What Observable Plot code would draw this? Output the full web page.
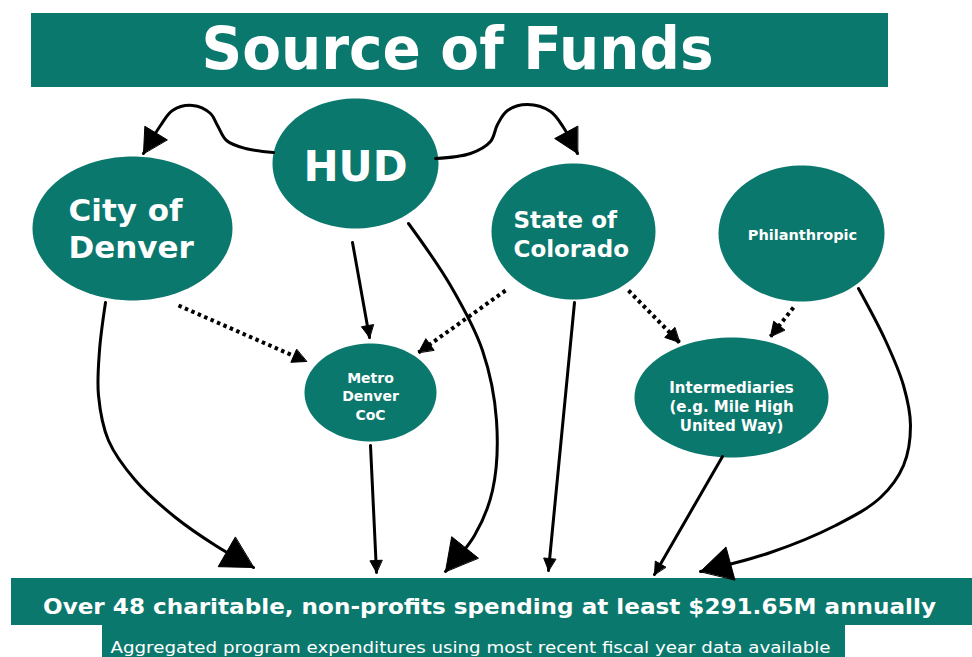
<!DOCTYPE html>
<html>
<head>
<meta charset="utf-8">
<script src="https://cdn.jsdelivr.net/npm/d3@7"></script>
<script src="https://cdn.jsdelivr.net/npm/@observablehq/plot@0.6"></script>
<style>
  html, body { margin: 0; padding: 0; background: #ffffff; }
  #chart svg { display: block; }
</style>
</head>
<body>
<div id="chart"></div>
<script>
// ---------- content / data ----------
const titleText = "Source of Funds";
const footerText = "Over 48 charitable, non-profits spending at least $291.65M annually";
const noteText = "Aggregated program expenditures using most recent fiscal year data available";

const nodeNames = ["HUD", "City of Denver", "State of Colorado", "Philanthropic", "Metro Denver CoC", "Intermediaries"];
const nodeLabels = [
  ["HUD"],
  ["City of", "Denver"],
  ["State of", "Colorado"],
  ["Philanthropic"],
  ["Metro", "Denver", "CoC"],
  ["Intermediaries", "(e.g. Mile High", "United Way)"]
];

// edges: from -> to ("Non-profits" = bottom bar), kind
const edgeFrom = ["HUD", "HUD", "HUD", "HUD", "City of Denver", "City of Denver", "State of Colorado", "State of Colorado", "State of Colorado", "Philanthropic", "Philanthropic", "Metro Denver CoC", "Intermediaries"];
const edgeTo   = ["City of Denver", "State of Colorado", "Metro Denver CoC", "Non-profits", "Non-profits", "Metro Denver CoC", "Metro Denver CoC", "Non-profits", "Intermediaries", "Intermediaries", "Non-profits", "Non-profits", "Non-profits"];
const edgeKind = ["solid", "solid", "solid", "solid", "solid", "dotted", "dotted", "solid", "dotted", "dotted", "solid", "solid", "solid"];

// ---------- layout (diagram geometry) ----------
const W = 972, H = 657;
const teal = "#0b786d";
const nodeCx = [355, 132, 573, 801, 370, 731];
const nodeCy = [163, 228, 231, 233, 392, 397];
const nodeRx = [83, 100, 82, 83, 66, 97];
const nodeRy = [65, 72, 68, 68, 49, 60];
const labelX = [355, 68, 513, 802, 370, 731];
const labelAnchor = ["middle", "start", "start", "middle", "middle", "middle"];
const labelBase = [180, 220, 227, 239, 382, 392];
const labelGap = [0, 37, 29, 0, 18.5, 19];
const labelSize = [42, 31, 23, 14.5, 14, 15];

const edgePaths = [
  [[273,152],[245,148],[226,140],[217,125],[210,113],[192,105],[172,110],[160,125]],
  [[435,158],[470,153],[490,141],[497,124],[507,110],[527,104],[550,111],[563,127]],
  [[352,242]],
  [[408,223],[450,285],[482,350],[496,420],[492,490],[474,535]],
  [[105,302],[99,350],[98,395],[108,440],[135,480],[175,517],[215,545]],
  [[178,305]],
  [[505,290]],
  [[574,302]],
  [[628,290]],
  [[793,307]],
  [[858,288],[885,340],[903,385],[910,425],[903,465],[880,497],[835,525],[770,552]],
  [[370,445]],
  [[722,456]]
];
const edgeTips = [[143,153],[577,153],[369,337],[445,571],[253,567],[306,361],[418,352],[548,570],[679,342],[770,336],[700,571],[376,572],[654,574]];
const headLen  = [24, 24, 12, 31, 31, 14, 14, 12, 14, 14, 31, 12, 12];
const headHalf = [13, 13, 6, 17, 17, 7, 7, 6, 7, 7, 17, 6, 6];

// ---------- derived tables ----------
const ellipseRows = [];
nodeNames.forEach((name, i) => {
  for (let k = 0; k < 90; k++) {
    const a = (k / 90) * 2 * Math.PI;
    ellipseRows.push({name, x: nodeCx[i] + nodeRx[i] * Math.cos(a), y: nodeCy[i] + nodeRy[i] * Math.sin(a)});
  }
});

const lineRows = [];
const headRows = [];
edgePaths.forEach((pts, i) => {
  const id = edgeFrom[i] + "→" + edgeTo[i] + i;
  const all = pts.concat([edgeTips[i]]);
  all.forEach(([x, y]) => lineRows.push({id, kind: edgeKind[i], x, y}));
  const [tx, ty] = edgeTips[i];
  const [px, py] = pts[pts.length - 1];
  const len = Math.hypot(tx - px, ty - py);
  const dx = (tx - px) / len, dy = (ty - py) / len;
  const bx = tx - headLen[i] * dx, by = ty - headLen[i] * dy;
  const nx = -dy, ny = dx;
  headRows.push({id, x: tx, y: ty});
  headRows.push({id, x: bx + headHalf[i] * nx, y: by + headHalf[i] * ny});
  headRows.push({id, x: bx - headHalf[i] * nx, y: by - headHalf[i] * ny});
});

const labelMarks = [];
nodeNames.forEach((name, i) => {
  const rows = nodeLabels[i].map((t, j) => ({t, x: labelX[i], y: labelBase[i] + j * labelGap[i]}));
  labelMarks.push(Plot.text(rows, {
    x: "x", y: "y", text: "t", lineAnchor: "bottom", textAnchor: labelAnchor[i],
    fill: "white", fontWeight: "bold", fontSize: labelSize[i]
  }));
});

const bars = [
  {x1: 31, x2: 888, y1: 13, y2: 87},
  {x1: 11, x2: 972, y1: 578, y2: 625},
  {x1: 102, x2: 845, y1: 625, y2: 657}
];

const chart = Plot.plot({
  width: W, height: H, margin: 0,
  x: {domain: [0, W], range: [0, W], axis: null},
  y: {domain: [0, H], range: [0, H], axis: null},
  style: {background: "white", fontFamily: "DejaVu Sans"},
  marks: [
    Plot.rect(bars, {x1: "x1", x2: "x2", y1: "y1", y2: "y2", fill: teal}),
    Plot.line(ellipseRows, {x: "x", y: "y", z: "name", fill: teal, stroke: "none", curve: "linear-closed"}),
    Plot.line(lineRows.filter(d => d.kind === "solid"), {x: "x", y: "y", z: "id", stroke: "black", strokeWidth: 3, curve: "catmull-rom"}),
    Plot.line(lineRows.filter(d => d.kind === "dotted"), {x: "x", y: "y", z: "id", stroke: "black", strokeWidth: 4, strokeDasharray: "3.5 3.5", strokeLinecap: "butt", curve: "linear"}),
    Plot.line(headRows, {x: "x", y: "y", z: "id", fill: "black", stroke: "black", strokeWidth: 1, strokeLinejoin: "miter", curve: "linear-closed"}),
    ...labelMarks,
    Plot.text([titleText], {x: () => 457, y: () => 68, text: d => d, lineAnchor: "bottom", fill: "white", fontWeight: "bold", fontSize: 59, className: "t-title"}),
    Plot.text([footerText], {x: () => 489, y: () => 613, text: d => d, lineAnchor: "bottom", fill: "white", fontWeight: "bold", fontSize: 22, className: "t-footer"}),
    Plot.text([noteText], {x: () => 470, y: () => 652, text: d => d, lineAnchor: "bottom", fill: "white", fontSize: 16, className: "t-note"})
  ]
});

document.getElementById("chart").appendChild(chart);
const svg = d3.select(chart);
svg.selectAll(".t-title text").attr("textLength", 512).attr("lengthAdjust", "spacingAndGlyphs");
svg.selectAll(".t-footer text").attr("textLength", 893).attr("lengthAdjust", "spacingAndGlyphs");
svg.selectAll(".t-note text").attr("textLength", 720).attr("lengthAdjust", "spacingAndGlyphs");
</script>
</body>
</html>
